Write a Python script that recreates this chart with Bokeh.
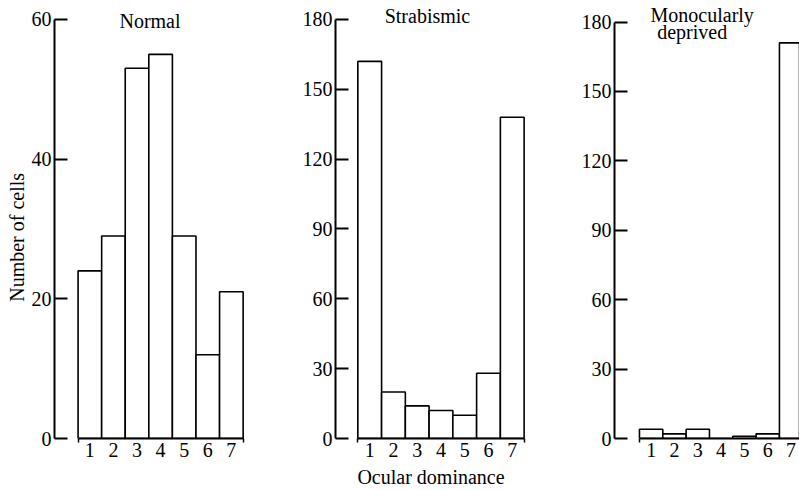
from bokeh.plotting import figure
from bokeh.models import FixedTicker, Label, Range1d, LinearAxis
from bokeh.layouts import row
from bokeh.embed import file_html
from bokeh.resources import INLINE

# ---- data ----
categories = [1, 2, 3, 4, 5, 6, 7]
tick_labels = ["1", "2", "3", "4", "5", "6", "7"]
normal = [24, 29, 53, 55, 29, 12, 21]
strabismic = [162, 20, 14, 12, 10, 28, 138]
deprived = [4, 2, 4, 0, 1, 2, 171]
normal_yticks = [0, 20, 40, 60]
other_yticks = [0, 30, 60, 90, 120, 150, 180]

FONT = "Liberation Serif"
FS = "20px"
H = 490


def panel(values, yticks, width, mbl, mbr, yend, frame_bottom, xstart, xend):
    p = figure(width=width, height=H,
               x_range=Range1d(xstart, xend),
               y_range=Range1d(0, yend),
               output_backend="svg", toolbar_location=None,
               min_border_left=mbl, min_border_right=mbr,
               min_border_top=0, min_border_bottom=H - frame_bottom)
    p.outline_line_color = None
    p.xgrid.visible = False
    p.ygrid.visible = False
    p.background_fill_color = "white"
    p.border_fill_color = "white"

    p.vbar(x=categories, top=values, bottom=0, width=1.0,
           fill_color="white", line_color="black", line_width=1.6)

    ya = p.yaxis[0]
    ya.ticker = FixedTicker(ticks=yticks)
    ya.bounds = (0, max(yticks))
    ya.major_tick_in = 13
    ya.major_tick_out = 0
    ya.minor_tick_in = 0
    ya.minor_tick_out = 0
    ya.axis_line_width = 2
    ya.major_tick_line_width = 2
    ya.axis_line_color = "black"
    ya.major_tick_line_color = "black"
    ya.major_label_text_font = FONT
    ya.major_label_text_font_size = FS
    ya.major_label_text_color = "black"
    ya.major_label_standoff = 3

    xa = p.xaxis[0]
    xa.ticker = FixedTicker(ticks=categories,
                            minor_ticks=[min(categories) - 0.5, max(categories) + 0.5])
    xa.major_label_overrides = {c: t for c, t in zip(categories, tick_labels)}
    xa.bounds = (min(categories) - 0.5, max(categories) + 0.5)
    xa.major_tick_in = 0
    xa.major_tick_out = 0
    xa.minor_tick_in = 0
    xa.minor_tick_out = 4
    xa.minor_tick_line_width = 1.5
    xa.minor_tick_line_color = "black"
    xa.axis_line_width = 2
    xa.axis_line_color = "black"
    xa.major_label_text_font = FONT
    xa.major_label_text_font_size = FS
    xa.major_label_text_color = "black"
    xa.major_label_standoff = 0
    return p


def title(p, text, x, y, angle=0):
    p.add_layout(Label(x=x, y=y, text=text, text_align="center",
                       text_baseline="alphabetic", text_font=FONT,
                       angle=angle, angle_units="deg",
                       text_font_size=FS, text_color="black"))


# Narrow strip holding the y-axis title "Number of cells"
lab = figure(width=28, height=H, x_range=Range1d(0, 28), y_range=Range1d(H, 0),
             output_backend="svg", toolbar_location=None,
             min_border_left=0, min_border_right=0,
             min_border_top=0, min_border_bottom=0)
lab.axis.visible = False
lab.xgrid.visible = False
lab.ygrid.visible = False
lab.outline_line_color = None
title(lab, "Number of cells", 16, 265, angle=90)

# Panel 1: Normal
p1 = panel(normal, normal_yticks, 262, 25, 45, 62.71, 440, -0.5, 7.6)
title(p1, "Normal", 3.55, 59.83)

# Panel 2: Strabismic
p2 = panel(strabismic, other_yticks, 275, 45, 39, 188.16, 438, -0.44, 7.6)
title(p2, "Strabismic", 3.43, 181.4)
xlab = LinearAxis(ticker=FixedTicker(ticks=[]), bounds=(0.5, 6.45),
                  axis_line_color=None, major_tick_line_color=None,
                  minor_tick_line_color=None,
                  axis_label="Ocular dominance", axis_label_standoff=6,
                  axis_label_text_font=FONT, axis_label_text_font_size=FS,
                  axis_label_text_font_style="normal",
                  axis_label_text_color="black")
p2.add_layout(xlab, "below")

# Panel 3: Monocularly deprived
p3 = panel(deprived, other_yticks, 234, 49, 0, 189.3, 442, -0.57, 7.36)
title(p3, "Monocularly", 3.19, 183.06)
title(p3, "deprived", 2.76, 175.9)

layout = row(lab, p1, p2, p3)
open("out.html", "w").write(file_html(layout, INLINE))
